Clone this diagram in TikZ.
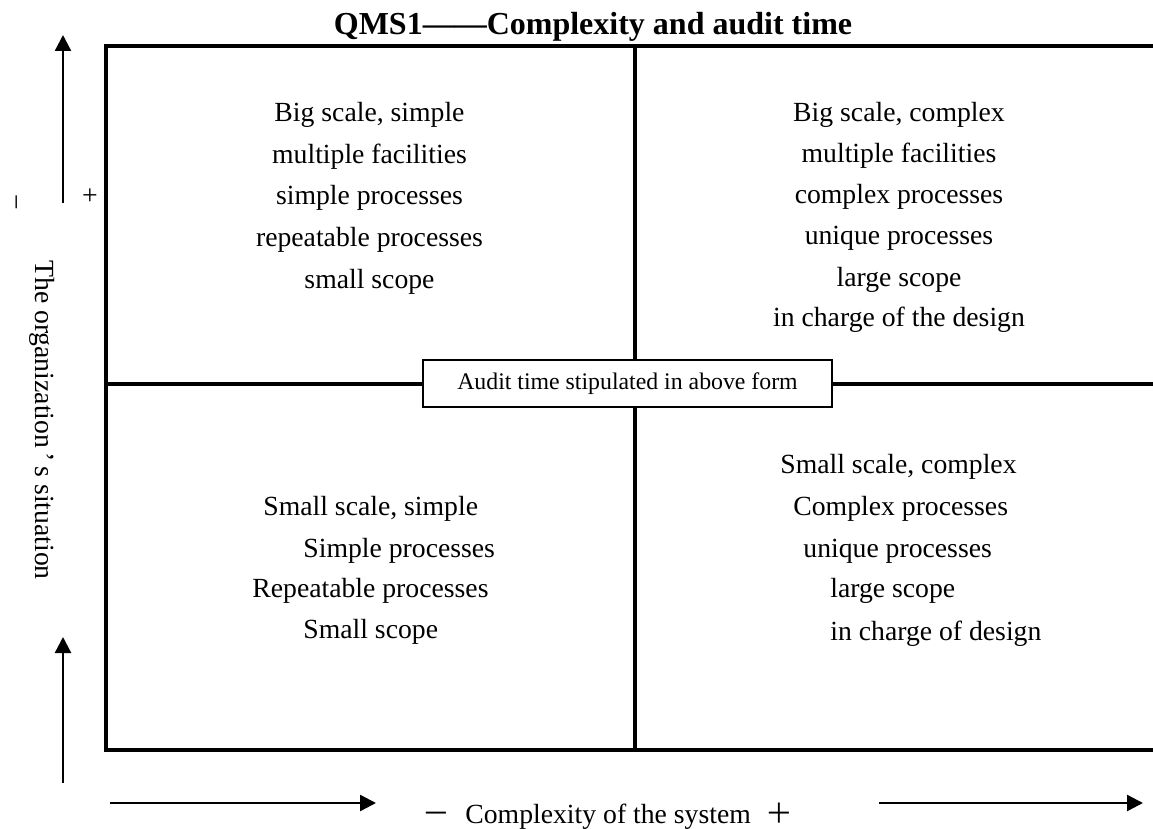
\documentclass[tikz,border=0pt]{standalone}
\usepackage{fontspec}
\setmainfont{Liberation Serif}
\newfontfamily\cjk{Noto Sans CJK SC}
\usetikzlibrary{arrows.meta}

\begin{document}
\begin{tikzpicture}[x=0.5pt, y=-0.5pt,
  every node/.style={inner sep=0pt, font=\fontsize{13.85}{16}\selectfont},
  frame/.style={line width=2pt},
  axisarrow/.style={line width=1.2pt, -{Triangle[length=8pt,width=8pt]}},
  note/.style={draw, line width=0.65pt, fill=white, minimum width=204.5pt,
    minimum height=23.5pt, font=\fontsize{11.9}{14}\selectfont},
  sign/.style={font=\cjk\fontsize{13.85}{16}\selectfont}]
\useasboundingbox (0,0) rectangle (1153,829);

% frame and quadrants
\coordinate (nw) at (106,46);
\coordinate (ne) at (1170,46);
\coordinate (sw) at (106,750);
\coordinate (se) at (1170,750);
\draw[frame] (ne) -- (nw) -- (sw) -- (se);
\draw[frame] (635,46) -- (635,750);
\draw[frame] (106,384) -- (1170,384);

\node[anchor=base, font=\bfseries\fontsize{16}{19}\selectfont] (title) at (593,35)
  {QMS1——Complexity and audit time};

% cell texts
\foreach \t [count=\i] in {{Big scale, simple}, multiple facilities, simple processes,
    repeatable processes, small scope}
  \node[anchor=base] (tl\i) at (369.5, 80.5+41.5*\i) {\t};
\foreach \t [count=\i] in {{Big scale, complex}, multiple facilities, complex processes,
    unique processes, large scope, in charge of the design}
  \node[anchor=base] (tr\i) at (899, 81+41*\i) {\t};
\foreach \x/\y/\t [count=\i] in {263/515/{Small scale, simple}, 303/557/Simple processes,
    252/597/Repeatable processes, 303/638/Small scope}
  \node[anchor=base west] (bl\i) at (\x,\y) {\t};
\foreach \x/\y/\t [count=\i] in {780/473/{Small scale, complex}, 793/515/Complex processes,
    803/557/unique processes, 830/597/large scope, 830/640/in charge of design}
  \node[anchor=base west] (br\i) at (\x,\y) {\t};

\node[note] (note) at (627.5,383.5) {Audit time stipulated in above form};

% vertical axis
\node[rotate=-90] (vlabel) at (42,420) {The organization\,’\,s situation};
\node[rotate=-90] (vminus) at (12,202) {−};
\node (vplus) at (90,197) {+};
\coordinate (up1a) at (63,203);
\coordinate (up1b) at (63,35);
\coordinate (up2a) at (63,783);
\coordinate (up2b) at (63,637);
\draw[axisarrow] (up1a) -- (up1b);
\draw[axisarrow] (up2a) -- (up2b);

% horizontal axis
\node[anchor=base west] (hlabel) at (465,823) {Complexity of the system};
\node[sign, anchor=base] (hminus) at (436,823) {－};
\node[sign, anchor=base] (hplus) at (779.5,823) {＋};
\coordinate (rt1a) at (110,803);
\coordinate (rt1b) at (376,803);
\coordinate (rt2a) at (879,803);
\coordinate (rt2b) at (1143,803);
\draw[axisarrow] (rt1a) -- (rt1b);
\draw[axisarrow] (rt2a) -- (rt2b);
\end{tikzpicture}
\end{document}
